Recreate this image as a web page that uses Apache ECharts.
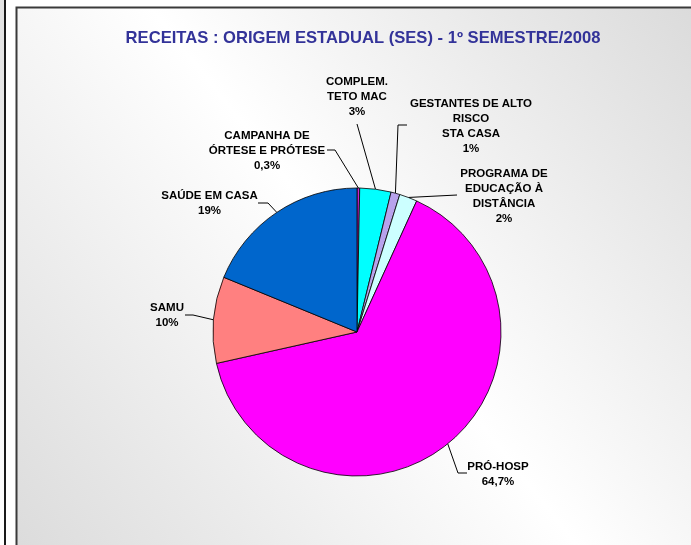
<!DOCTYPE html>
<html>
<head>
<meta charset="utf-8">
<script src="https://cdn.jsdelivr.net/npm/echarts@6/dist/echarts.min.js"></script>
<style>
html,body{margin:0;padding:0;background:#fff;}
#chart{width:691px;height:545px;}
</style>
</head>
<body>
<div id="chart"></div>
<script>
// ---- data ----
const categories = ['CAMPANHA DE\nÓRTESE E PRÓTESE', 'COMPLEM.\nTETO MAC', 'GESTANTES DE ALTO\nRISCO\nSTA CASA', 'PROGRAMA DE\nEDUCAÇÃO À\nDISTÂNCIA', 'PRÓ-HOSP', 'SAMU', 'SAÚDE EM CASA'];
const values = [0.3, 3.5, 1.0, 2.0, 64.7, 9.7, 18.8];
const pctLabels = ['0,3%', '3%', '1%', '2%', '64,7%', '10%', '19%'];
const titleText = 'RECEITAS : ORIGEM ESTADUAL (SES) - 1º SEMESTRE/2008';

// ---- styles / layout ----
const colors = ['#CC22CC', '#00FFFF', '#B8A2EC', '#CCFFFF', '#FF00FF', '#FF8080', '#0066CC'];
const labelSpots = [
  {x: 267, y: 151, pts: [[335, 150], [327, 150]]},
  {x: 357, y: 97, pts: [[357, 124]]},
  {x: 471, y: 126, pts: [[398, 125], [407, 125]]},
  {x: 504, y: 196, pts: [[457, 195]]},
  {x: 498, y: 474.5, pts: [[458, 473], [467, 473]]},
  {x: 167, y: 315.5, pts: [[193, 315], [185, 315]]},
  {x: 209.5, y: 203.5, pts: [[268, 203], [258, 203]]}
];

const chart = echarts.init(document.getElementById('chart'), null, {renderer: 'canvas'});
const seriesData = categories.map((c, i) => ({
  name: c,
  value: values[i],
  itemStyle: {color: colors[i]}
}));

chart.setOption({
  backgroundColor: '#ffffff',
  animation: false,
  title: {
    text: titleText,
    left: 363,
    top: 30,
    padding: 0,
    textAlign: 'center',
    textStyle: {color: '#333399', fontSize: 16.6, fontWeight: 'bold', fontFamily: 'Liberation Sans, Arial, sans-serif'}
  },
  graphic: [
    {type: 'rect', z: -10, shape: {x: 0, y: 0, width: 4, height: 545},
     style: {fill: {type: 'linear', x: 0, y: 0, x2: 0, y2: 1, colorStops: [{offset: 0, color: '#e2e2e2'}, {offset: 1, color: '#ffffff'}]}}},
    {type: 'rect', z: -9, shape: {x: 4, y: 0, width: 2, height: 545}, style: {fill: '#1a1a1a'}},
    {type: 'rect', z: -8, shape: {x: 16.5, y: 7.5, width: 720, height: 570},
     style: {stroke: '#3a3a3a', lineWidth: 2,
       fill: {type: 'linear', x: 1, y: 0, x2: 0, y2: 1,
         colorStops: [{offset: 0, color: '#d8d8d8'}, {offset: 0.5, color: '#ffffff'}, {offset: 1, color: '#dadada'}]}}}
  ],
  series: [{
    type: 'pie',
    center: [357, 332],
    radius: 144,
    startAngle: 90,
    clockwise: true,
    avoidLabelOverlap: false,
    data: seriesData,
    itemStyle: {borderColor: '#000', borderWidth: 0.8},
    label: {
      show: true,
      position: 'outside',
      formatter: p => p.name + '\n' + pctLabels[p.dataIndex],
      color: '#000',
      fontSize: 11.5,
      fontWeight: 'bold',
      fontFamily: 'Liberation Sans, Arial, sans-serif',
      lineHeight: 15,
      align: 'center'
    },
    labelLine: {show: true, length: 10, length2: 10, lineStyle: {color: '#000', width: 1}},
    labelLayout: function (p) {
      const s = labelSpots[p.dataIndex];
      const out = {x: s.x, y: s.y, align: 'center', verticalAlign: 'middle'};
      if (p.labelLinePoints && p.labelLinePoints[0]) {
        const a = p.labelLinePoints[0];
        out.labelLinePoints = [[a[0], a[1]]].concat(s.pts);
      }
      return out;
    },
    emphasis: {disabled: true}
  }]
});
</script>
</body>
</html>
